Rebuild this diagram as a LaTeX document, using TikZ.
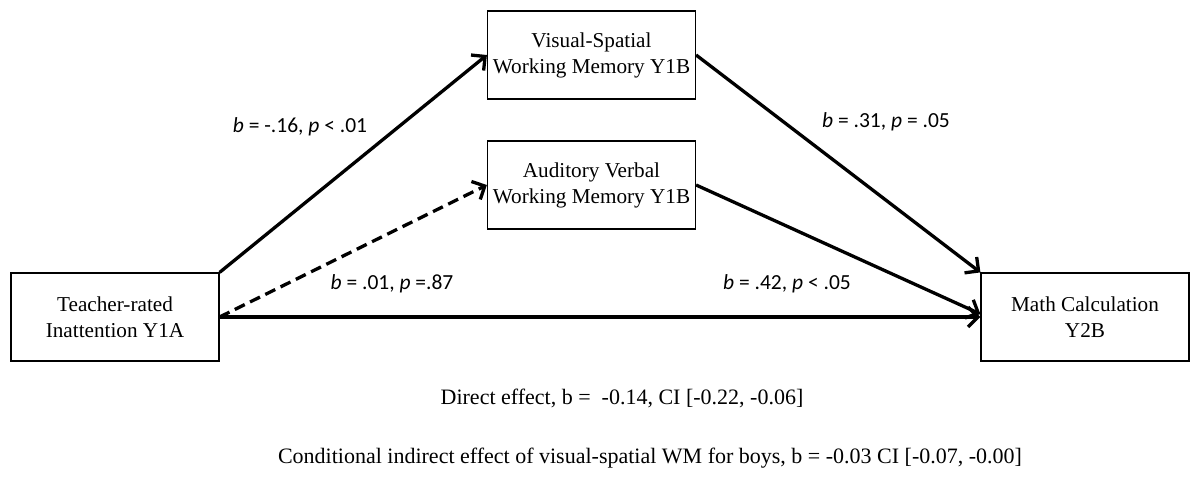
\documentclass[tikz,border=0pt]{standalone}
\usepackage{fontspec}
\setmainfont{Liberation Serif}
\newfontfamily\labfont{Carlito}
\usetikzlibrary{arrows.meta,calc}
\tikzset{
  varbox/.style={draw, line width=1.2pt, rectangle, minimum width=208pt, minimum height=88pt,
    align=center, inner sep=0pt, font=\fontsize{21.2}{26}\selectfont},
  path/.style={line width=3.3pt, -{Straight Barb[length=10pt,width=20pt,line width=3.3pt]}},
  dpath/.style={path, dash pattern=on 11pt off 6pt},
  coef/.style={font=\labfont\fontsize{21.5}{25}\selectfont, inner sep=0pt},
  note/.style={font=\fontsize{22}{26}\selectfont, inner sep=0pt}
}
\begin{document}
\begin{tikzpicture}[x=1pt,y=-1pt]
\useasboundingbox[fill=white] (0,0) rectangle (1200,477);
\node[varbox] (A) at (115,317) {Teacher-rated\\Inattention Y1A};
\node[varbox] (VS) at (591.5,55) {Visual-Spatial\\Working Memory Y1B};
\node[varbox] (AV) at (591.5,185) {Auditory Verbal\\Working Memory Y1B};
\node[varbox] (M) at (1085,317) {Math Calculation\\Y2B};
\coordinate (Min) at ($(M.west)+(0,-3)$);
\draw[path] (A.north east) -- (VS.west);
\draw[dpath] (A.east) -- (AV.west);
\draw[path] (A.east) -- (M.west);
\draw[path] (VS.east) -- (M.north west);
\draw[path] (AV.east) -- (Min);
\node[coef] (l1) at (300,127) {\textit{b} = -.16, \textit{p} < .01};
\node[coef] (l2) at (392,284) {\textit{b} = .01, \textit{p} =.87};
\node[coef] (l3) at (886,122) {\textit{b} = .31, \textit{p} = .05};
\node[coef] (l4) at (787,284) {\textit{b} = .42, \textit{p} < .05};
\node[note] (n1) at (622,398) {Direct effect, b =\ \ -0.14, CI [-0.22, -0.06]};
\node[note] (n2) at (650,458) {Conditional indirect effect of visual-spatial WM for boys, b = -0.03 CI [-0.07, -0.00]};
\end{tikzpicture}
\end{document}
